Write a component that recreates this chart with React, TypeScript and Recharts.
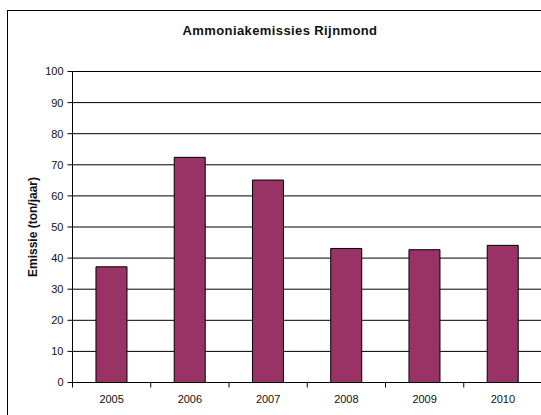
import React from 'react';
import { BarChart, Bar, XAxis, YAxis, CartesianGrid, Label } from 'recharts';

const years = ['2005', '2006', '2007', '2008', '2009', '2010'];
const emissions = [37.2, 72.4, 65.1, 43.1, 42.7, 44.1];
const yTicks = [0, 10, 20, 30, 40, 50, 60, 70, 80, 90, 100];

const data = years.map((year, i) => ({ year, value: emissions[i] }));

const CHART_W = 560;
const CHART_H = 415;
const MARGIN = { top: 71.5, right: 18, bottom: 2.5, left: 0.5 };
const Y_AXIS_W = 72;
const X_TICK_SIZE = 5;
const X_TICK_MARGIN = 8;
const FONT = '"Liberation Sans", Arial, sans-serif';

const plotWidth = CHART_W - MARGIN.left - MARGIN.right - Y_AXIS_W;
const bandFallback = plotWidth / years.length;

const XTick = (props: any) => {
  const { x, y, payload, index } = props;
  const half = payload && payload.offset && payload.offset > 5 ? payload.offset : bandFallback / 2;
  const axisY = y - X_TICK_SIZE - X_TICK_MARGIN;
  return (
    <g>
      <line x1={x - half} x2={x - half} y1={axisY} y2={axisY + X_TICK_SIZE} stroke="#000" />
      {index === years.length - 1 && (
        <line x1={x + half} x2={x + half} y1={axisY} y2={axisY + X_TICK_SIZE} stroke="#000" />
      )}
      <text x={x} y={y} dy="0.71em" textAnchor="middle" fontSize={11} fontFamily={FONT} fill="#111">
        {payload.value}
      </text>
    </g>
  );
};

export default function App() {
  return (
    <div
      style={{
        position: 'fixed',
        left: 0,
        top: 0,
        width: 541,
        height: 415,
        overflow: 'hidden',
        background: '#fff',
      }}
    >
      <div
        style={{
          position: 'absolute',
          left: 7,
          top: 10,
          width: 600,
          height: 450,
          border: '1px solid #000',
          boxSizing: 'border-box',
        }}
      />
      <div
        style={{
          position: 'absolute',
          left: 0,
          top: 23,
          width: 560,
          textAlign: 'center',
          fontFamily: FONT,
          fontWeight: 'bold',
          fontSize: 13,
          letterSpacing: 0.4,
          color: '#111',
          lineHeight: 'normal',
        }}
      >
        Ammoniakemissies Rijnmond
      </div>
      <div style={{ position: 'absolute', left: 0, top: 0 }}>
        <BarChart
          width={CHART_W}
          height={CHART_H}
          data={data}
          margin={MARGIN}
          barCategoryGap="30%"
        >
          <CartesianGrid vertical={false} stroke="#000" />
          <XAxis
            dataKey="year"
            axisLine={{ stroke: '#000' }}
            tickLine={false}
            tickSize={X_TICK_SIZE}
            tickMargin={X_TICK_MARGIN}
            interval={0}
            height={30}
            tick={<XTick />}
          />
          <YAxis
            domain={[0, 100]}
            ticks={yTicks}
            interval={0}
            width={Y_AXIS_W}
            axisLine={{ stroke: '#000' }}
            tickLine={{ stroke: '#000' }}
            tickSize={5}
            tickMargin={4}
            tick={{ fontSize: 11, fontFamily: FONT, fill: '#111' }}
          >
            <Label
              value="Emissie (ton/jaar)"
              angle={-90}
              position="center"
              dx={-3.5}
              style={{ fontSize: 12, fontWeight: 'bold', fontFamily: FONT, fill: '#111' }}
            />
          </YAxis>
          <Bar dataKey="value" fill="#993366" stroke="#000" strokeWidth={1} isAnimationActive={false} />
        </BarChart>
      </div>
    </div>
  );
}
